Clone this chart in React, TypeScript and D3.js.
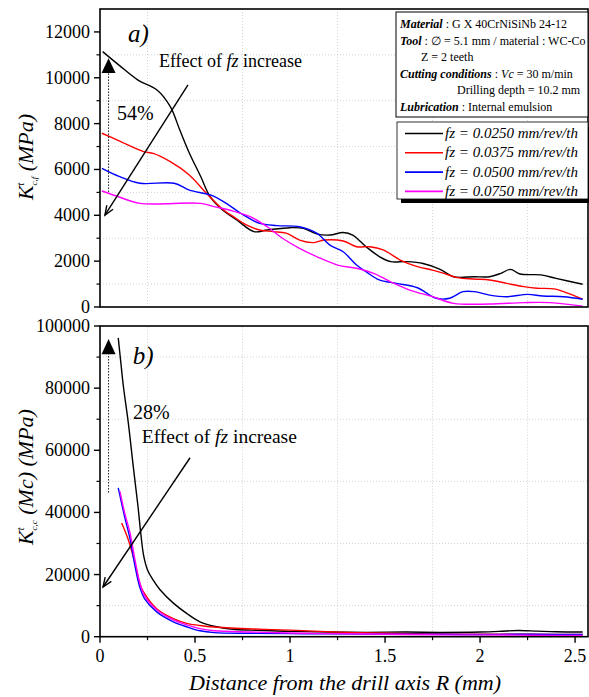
import React from "react";
import * as d3 from "d3";

type P = [number, number];

const seriesLabels = [
  "fz = 0.0250 mm/rev/th",
  "fz = 0.0375 mm/rev/th",
  "fz = 0.0500 mm/rev/th",
  "fz = 0.0750 mm/rev/th",
];
const seriesColors = ["#000000", "#ff0000", "#0000ff", "#ff00ff"];

// Panel a) K_c,f (MPa) vs R (mm)
const topBlack: P[] = [
  [0.014, 11140], [0.1, 10550], [0.2, 9900], [0.3, 9470], [0.37, 8740], [0.42, 7720],
  [0.47, 6720], [0.53, 5690], [0.58, 4810], [0.65, 4200], [0.72, 3800], [0.81, 3290],
  [0.88, 3360], [1.0, 3460], [1.07, 3430], [1.14, 3190], [1.21, 3140], [1.28, 3250],
  [1.33, 3140], [1.4, 2630], [1.47, 2200], [1.53, 1980], [1.61, 1980], [1.7, 1900],
  [1.79, 1640], [1.86, 1320], [1.97, 1320], [2.05, 1320], [2.11, 1470], [2.16, 1640],
  [2.21, 1440], [2.32, 1400], [2.4, 1250], [2.54, 990],
];
const topRed: P[] = [
  [0.01, 7580], [0.1, 7250], [0.23, 6780], [0.28, 6700], [0.37, 6340], [0.47, 5760],
  [0.56, 4960], [0.65, 4230], [0.7, 3950], [0.77, 3580], [0.84, 3360], [0.91, 3290],
  [0.98, 3220], [1.05, 2920], [1.12, 2810], [1.18, 2920], [1.28, 2880], [1.35, 2630],
  [1.42, 2630], [1.49, 2490], [1.58, 2050], [1.67, 1760], [1.75, 1610], [1.81, 1470],
  [1.88, 1280], [1.97, 1220], [2.05, 1180], [2.14, 1030], [2.23, 890], [2.3, 820],
  [2.39, 790], [2.44, 670], [2.54, 340],
];
const topBlue: P[] = [
  [0.01, 6050], [0.1, 5700], [0.21, 5400], [0.39, 5400], [0.47, 5100], [0.58, 4890],
  [0.65, 4600], [0.74, 4090], [0.77, 3940], [0.84, 3650], [0.93, 3550], [1.05, 3500],
  [1.14, 3220], [1.21, 2700], [1.28, 2410], [1.35, 1830], [1.4, 1540], [1.47, 1180],
  [1.56, 1030], [1.67, 840], [1.77, 380], [1.84, 380], [1.91, 670], [1.97, 670],
  [2.05, 520], [2.14, 450], [2.25, 550], [2.33, 480], [2.44, 450], [2.54, 340],
];
const topMagenta: P[] = [
  [0.01, 5060], [0.1, 4800], [0.21, 4520], [0.53, 4520], [0.6, 4380], [0.68, 4230],
  [0.79, 3940], [0.88, 3500], [0.96, 3000], [1.05, 2560], [1.14, 2200], [1.25, 1830],
  [1.35, 1690], [1.44, 1470], [1.53, 1100], [1.63, 740], [1.75, 450], [1.86, 160],
  [2.05, 130], [2.23, 190], [2.37, 190], [2.54, 40],
];

// Panel b) K_c,c (Mc) (MPa) vs R (mm)
const botBlack: P[] = [
  [0.096, 96200], [0.11, 88000], [0.123, 80600], [0.149, 68800], [0.175, 54800],
  [0.2, 41900], [0.215, 33000], [0.23, 26000], [0.25, 21500], [0.28, 18200], [0.316, 15100],
  [0.386, 10800], [0.456, 7500], [0.526, 4800], [0.614, 3200], [0.7, 2400], [0.8, 2100],
  [0.9, 1900], [1.0, 1700], [1.2, 1500], [1.4, 1400], [1.6, 1500], [1.8, 1400],
  [2.0, 1500], [2.1, 1700], [2.2, 2000], [2.3, 1800], [2.4, 1600], [2.54, 1500],
];
const botRed: P[] = [
  [0.114, 36600], [0.149, 31200], [0.184, 23700], [0.21, 17000], [0.228, 14500],
  [0.3, 8900], [0.386, 5800], [0.456, 4300], [0.526, 3600], [0.6, 3100], [0.8, 2500],
  [1.0, 2100], [1.16, 1700], [1.3, 1400], [1.5, 1100], [1.8, 900], [2.0, 800],
  [2.2, 800], [2.4, 700], [2.54, 700],
];
const botBlue: P[] = [
  [0.096, 47900], [0.11, 44000], [0.13, 38500], [0.158, 31500], [0.184, 22800],
  [0.21, 15800], [0.237, 12000], [0.3, 7900], [0.386, 4800], [0.456, 3200],
  [0.526, 1900], [0.6, 1300], [0.8, 1100], [1.0, 1000], [1.2, 900], [1.5, 800],
  [1.8, 800], [2.0, 700], [2.2, 800], [2.4, 700], [2.54, 700],
];
const botMagenta: P[] = [
  [0.105, 46800], [0.13, 39800], [0.158, 33400], [0.184, 24700], [0.21, 17200],
  [0.237, 12900], [0.3, 8600], [0.386, 5400], [0.456, 3800], [0.526, 2600], [0.6, 1900],
  [0.8, 1500], [1.0, 1200], [1.2, 1000], [1.5, 800], [1.8, 600], [2.0, 600], [2.2, 500],
  [2.4, 400], [2.54, 400],
];

const xTicks = [0, 0.5, 1, 1.5, 2, 2.5];
const xMinor = [0.25, 0.75, 1.25, 1.75, 2.25];
const topTicks = [0, 2000, 4000, 6000, 8000, 10000, 12000];
const topMinor = [1000, 3000, 5000, 7000, 9000, 11000];
const botTicks = [0, 20000, 40000, 60000, 80000, 100000];
const botMinor = [10000, 30000, 50000, 70000, 90000];

const SERIF = "Liberation Serif";
const serif = { fontFamily: SERIF };
const serifI = { fontFamily: SERIF, fontStyle: "italic" as const };

const L = 100, R = 588;
const x = d3.scaleLinear().domain([0, 2.568]).range([L, R]);
const yTop = d3.scaleLinear().domain([0, 13000]).range([307, 9]);
const yBot = d3.scaleLinear().domain([0, 100000]).range([636.7, 326]);

function Panel({ y, ticks, minor, series, showX }: any) {
  const [y0, y1] = y.range();
  const line = (s: P[]) =>
    d3.line<P>().x((d) => x(d[0])).y((d) => y(d[1])).curve(d3.curveCatmullRom.alpha(0.5))(s) || "";
  return (
    <g>
      {xMinor.map((v) => (
        <line key={"gx" + v} x1={x(v)} x2={x(v)} y1={y0} y2={y1} stroke="#c8c8c8" strokeWidth={0.8} strokeDasharray="1,2" />
      ))}
      {minor.map((v: number) => (
        <line key={"gy" + v} x1={L} x2={R} y1={y(v)} y2={y(v)} stroke="#c8c8c8" strokeWidth={0.8} strokeDasharray="1,2" />
      ))}
      {series.map((s: P[], i: number) => (
        <path key={i} d={line(s)} fill="none" stroke={seriesColors[i]} strokeWidth={1.4} />
      ))}
      <rect x={L} y={y1} width={R - L} height={y0 - y1} fill="none" stroke="#000" strokeWidth={1.6} />
      {ticks.map((v: number) => (
        <g key={"t" + v}>
          <line x1={L - 6} x2={L} y1={y(v)} y2={y(v)} stroke="#000" strokeWidth={1.4} />
          <text x={90} y={y(v) + 6} textAnchor="end" fontSize={18} style={serif}>{v}</text>
        </g>
      ))}
      {minor.map((v: number) => (
        <line key={"m" + v} x1={L - 3.5} x2={L} y1={y(v)} y2={y(v)} stroke="#000" strokeWidth={1.2} />
      ))}
      {showX && xTicks.map((v) => (
        <g key={"xt" + v}>
          <line x1={x(v)} x2={x(v)} y1={y0} y2={y0 + 6} stroke="#000" strokeWidth={1.4} />
          <text x={x(v)} y={662} textAnchor="middle" fontSize={18} style={serif}>{v}</text>
        </g>
      ))}
      {showX && xMinor.map((v) => (
        <line key={"xm" + v} x1={x(v)} x2={x(v)} y1={y0} y2={y0 + 3.5} stroke="#000" strokeWidth={1.2} />
      ))}
    </g>
  );
}

function UpArrow({ xv, yFrom, yBase, yTip, y }: any) {
  const cx = x(xv);
  return (
    <g>
      <line x1={cx} x2={cx} y1={y(yFrom)} y2={y(yBase)} stroke="#000" strokeWidth={0.9} strokeDasharray="1.5,1.5" />
      <path d={`M${cx - 7},${y(yBase)} L${cx + 7},${y(yBase)} L${cx},${y(yTip)} Z`} fill="#000" />
    </g>
  );
}

function Arrow({ x1, y1, x2, y2 }: any) {
  const ang = Math.atan2(y2 - y1, x2 - x1);
  const len = 10, spread = 0.38;
  const a1 = [x2 - len * Math.cos(ang - spread), y2 - len * Math.sin(ang - spread)];
  const a2 = [x2 - len * Math.cos(ang + spread), y2 - len * Math.sin(ang + spread)];
  return (
    <g stroke="#000" strokeWidth={1.4} fill="none">
      <line x1={x1} y1={y1} x2={x2} y2={y2} />
      <path d={`M${a1[0]},${a1[1]} L${x2},${y2} L${a2[0]},${a2[1]}`} />
    </g>
  );
}

function YTitle({ cx, cy, sub }: any) {
  return (
    <text transform={`translate(${cx},${cy}) rotate(-90)`} textAnchor="middle" style={serifI} fontSize={22}>
      <tspan>K</tspan>
      <tspan fontSize={10} dy={-9}>t</tspan>
      <tspan fontSize={9} dx={-3} dy={13}>{sub}</tspan>
      <tspan dy={-4}>{"\u00a0" + (sub === "c,c" ? "(Mc) (MPa)" : "(MPa)")}</tspan>
    </text>
  );
}

export default function App() {
  return (
    <svg width={589} height={697} style={{ position: "absolute", left: 0, top: 0, background: "#fff", fontFamily: SERIF }}>
      <rect width={589} height={697} fill="#fff" />
      <Panel y={yTop} ticks={topTicks} minor={topMinor} series={[topBlack, topRed, topBlue, topMagenta]} showX={false} />
      <Panel y={yBot} ticks={botTicks} minor={botMinor} series={[botBlack, botRed, botBlue, botMagenta]} showX={true} />

      {/* panel a annotations */}
      <text x={x(0.147)} y={yTop(11560)} style={serifI} fontSize={25}>a)</text>
      <UpArrow xv={0.045} yFrom={5020} yBase={10210} yTip={10850} y={yTop} />
      <text x={x(0.09)} y={yTop(8150)} style={serif} fontSize={20}>54%</text>
      <text x={x(0.31)} y={yTop(10470)} style={serif} fontSize={18}>
        Effect of <tspan fontStyle="italic">fz</tspan> increase
      </text>
      <Arrow x1={x(0.463)} y1={yTop(9690)} x2={x(0.026)} y2={yTop(4010)} />

      {/* panel b annotations */}
      <text x={x(0.172)} y={yBot(87900)} style={serifI} fontSize={25}>b)</text>
      <UpArrow xv={0.045} yFrom={46400} yBase={90900} yTip={95800} y={yBot} />
      <text x={x(0.174)} y={yBot(70200)} style={serif} fontSize={20}>28%</text>
      <text x={x(0.22)} y={yBot(62400)} style={serif} fontSize={19.5}>
        Effect of <tspan fontStyle="italic">fz</tspan> increase
      </text>
      <Arrow x1={x(0.474)} y1={yBot(57600)} x2={x(0.016)} y2={yBot(16000)} />

      {/* info box */}
      <rect x={396} y={12} width={192} height={105} fill="#fff" stroke="#000" strokeWidth={1} />
      <g style={serif} fontSize={12}>
        <text x={400} y={28} style={serif}><tspan fontWeight="bold" fontStyle="italic">Material</tspan> : G X 40CrNiSiNb 24-12</text>
        <text x={400} y={45} style={serif}><tspan fontWeight="bold" fontStyle="italic">Tool</tspan> : ∅ = 5.1 mm / material : WC-Co</text>
        <text x={421} y={61} style={serif}>Z = 2 teeth</text>
        <text x={400} y={78} style={serif}><tspan fontWeight="bold" fontStyle="italic">Cutting conditions</tspan> : <tspan fontStyle="italic">Vc</tspan> = 30 m/min</text>
        <text x={457} y={94} style={serif}>Drilling depth = 10.2 mm</text>
        <text x={400} y={111} style={serif}><tspan fontWeight="bold" fontStyle="italic">Lubrication</tspan> : Internal emulsion</text>
      </g>

      {/* legend */}
      <rect x={401} y={127} width={191} height={76} fill="#000" />
      <rect x={397} y={122} width={191} height={77} fill="#fff" stroke="#000" strokeWidth={0.8} />
      {seriesLabels.map((s, i) => {
        const cy = 133.5 + i * 19.3;
        return (
          <g key={s}>
            <line x1={405} x2={443} y1={cy} y2={cy} stroke={seriesColors[i]} strokeWidth={1.6} />
            <text x={445} y={cy + 4.5} style={serifI} fontSize={15}>{s}</text>
          </g>
        );
      })}

      <YTitle cx={33} cy={157} sub="c,f" />
      <YTitle cx={33} cy={477} sub="c,c" />
      <text x={345} y={690} textAnchor="middle" style={serifI} fontSize={22}>
        Distance from the drill axis R (mm)
      </text>
    </svg>
  );
}
